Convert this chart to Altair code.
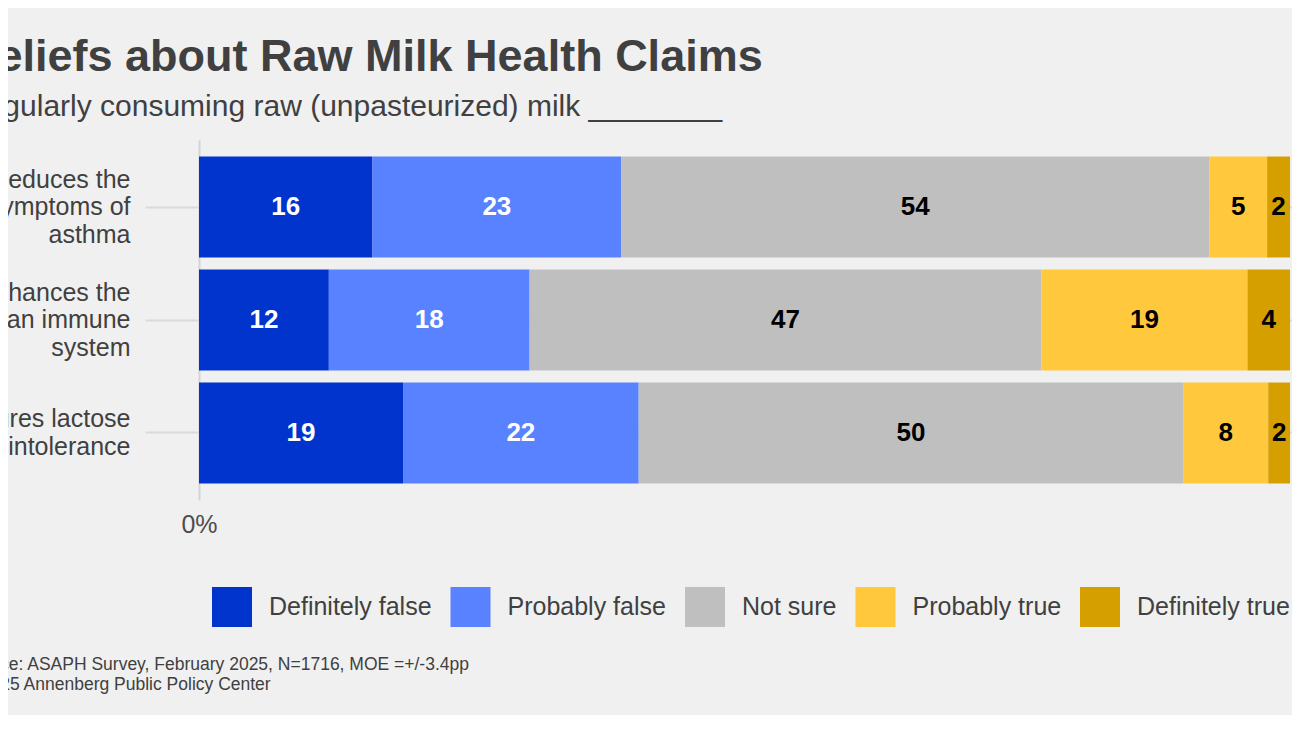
import altair as alt
import pandas as pd

# ---- data ----
claims = [
    "Reduces the|symptoms of|asthma",
    "Enhances the|human immune|system",
    "Cures lactose|intolerance",
]
responses = ["Definitely false", "Probably false", "Not sure", "Probably true", "Definitely true"]
colors = ["#0134CC", "#5882FF", "#BFBFBF", "#FFC83D", "#D69F00"]
text_colors = ["white", "white", "black", "black", "black"]

asthma = [15.9, 22.8, 53.9, 5.3, 2.1]
immune = [11.9, 18.4, 46.9, 18.9, 3.9]
lactose = [18.7, 21.6, 49.9, 7.8, 2.0]
series = [asthma, immune, lactose]

title_text = "Beliefs about Raw Milk Health Claims"
subtitle_text = "Regularly consuming raw (unpasteurized) milk ________"
footer_lines = [
    "Source: ASAPH Survey, February 2025, N=1716, MOE =+/-3.4pp",
    "\u00a9 2025 Annenberg Public Policy Center",
]
x_tick_values = [0]

# ---- build table ----
rows = []
for claim, vals in zip(claims, series):
    start = 0.0
    for resp, v, tc in zip(responses, vals, text_colors):
        end = start + v
        rows.append({
            "claim": claim, "response": resp, "value": v,
            "start": start, "end": end, "mid": (start + end) / 2,
            "label": f"{v:.0f}", "tcolor": tc,
        })
        start = end
df = pd.DataFrame(rows)

FONT = "Liberation Sans"
LINE_H = 27.5

x_scale = alt.Scale(domain=[-4.95, 100.18], nice=False, zero=False)
y_scale = alt.Scale(paddingInner=0.106, paddingOuter=0.146)

bars = alt.Chart(df).mark_bar().encode(
    x=alt.X("start:Q", scale=x_scale, axis=alt.Axis(
        values=x_tick_values, labelExpr="datum.value + '%'", grid=True,
        gridColor="#d4d4d4", gridWidth=2, ticks=False, domain=False,
        labelFontSize=25, labelColor="#4d4d4d", labelPadding=12, title=None,
        labelFont=FONT)),
    x2="end:Q",
    y=alt.Y("claim:N", sort=claims, scale=y_scale, axis=alt.Axis(
        title=None, labelExpr="split(datum.label, '|')", labelFontSize=25,
        labelLineHeight=LINE_H, labelColor="#404040", labelPadding=15,
        labelOffset={"condition": {"test": "length(split(datum.value, '|')) == 2",
                                   "value": -LINE_H / 2},
                     "value": -LINE_H},
        ticks=False, domain=False, grid=True, gridColor="#d9d9d9",
        gridWidth=2, bandPosition=0.5, labelLimit=400, labelFont=FONT)),
    color=alt.Color("response:N", sort=responses,
                    scale=alt.Scale(domain=responses, range=colors),
                    legend=alt.Legend(
                        orient="none", legendX=67, legendY=447,
                        direction="horizontal", title=None,
                        symbolType="square", symbolSize=1600,
                        symbolStrokeWidth=0, symbolOpacity=1,
                        labelFontSize=25, labelColor="#404040",
                        labelFont=FONT, labelOffset=17, columnPadding=18.5,
                        padding=0, labelLimit=400)),
)

labels = alt.Chart(df).mark_text(
    font=FONT, fontWeight="bold", fontSize=26, baseline="middle"
).encode(
    x=alt.X("mid:Q", scale=x_scale),
    y=alt.Y("claim:N", sort=claims, scale=y_scale),
    text="label:N",
    color=alt.Color("tcolor:N", scale=None, legend=None),
)

footer = alt.Chart(pd.DataFrame({"t": ["\n".join(footer_lines)]})).mark_text(
    align="left", baseline="top", font=FONT, fontSize=17.5,
    color="#404040", lineBreak="\n", lineHeight=20,
).encode(x=alt.value(-182), y=alt.value(516), text="t:N")

chart = alt.layer(bars, labels, footer).properties(
    width=1147, height=360,
    title=alt.TitleParams(
        text=title_text, subtitle=subtitle_text, anchor="start",
        frame="group", dx=-180, font=FONT, fontSize=45, fontWeight="bold",
        color="#404040", subtitleFont=FONT, subtitleFontSize=30,
        subtitleColor="#404040", subtitlePadding=12, offset=18),
    autosize=alt.AutoSizeParams(type="none"),
    padding={"left": 137, "top": 132, "right": 0, "bottom": 215},
).configure(
    background="#f0f0f0", font=FONT,
).configure_view(stroke=None)

chart.save("out.html", embed_options={"renderer": "svg", "actions": False})
